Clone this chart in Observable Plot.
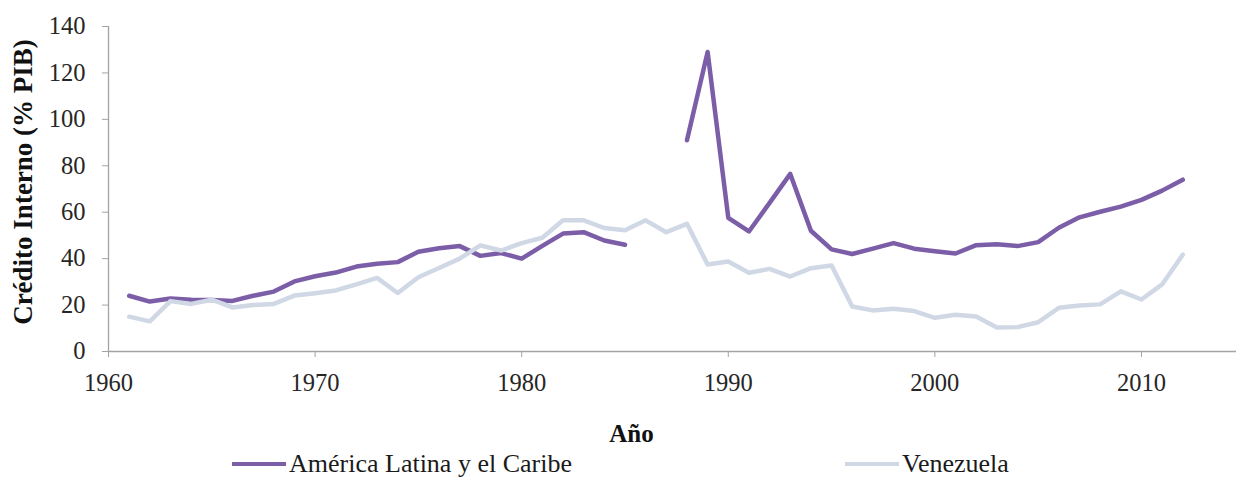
<!DOCTYPE html>
<html>
<head>
<meta charset="utf-8">
<script src="https://cdn.jsdelivr.net/npm/d3@7"></script>
<script src="https://cdn.jsdelivr.net/npm/@observablehq/plot@0.6"></script>
<style>
  html, body { margin: 0; padding: 0; background: #fff; font-family: "Liberation Serif", serif; }
  #wrap { position: relative; width: 1236px; height: 477px; font-family: "Liberation Serif", serif; }
  #legend { position: absolute; left: 0; top: 450px; width: 1236px; height: 28px; font-family: "Liberation Serif", serif; font-size: 26px; color: #1a1a1a; }
  .item { position: absolute; top: 0; display: flex; align-items: center; height: 28px; font-family: "Liberation Serif", serif; white-space: nowrap; }
  .sw { display: inline-block; width: 54px; height: 4.5px; margin-right: 3px; }
</style>
</head>
<body>
<div id="wrap"><div id="chart"></div><div id="legend"></div></div>
<script>
const years = [1961,1962,1963,1964,1965,1966,1967,1968,1969,1970,1971,1972,1973,1974,1975,1976,1977,1978,1979,1980,1981,1982,1983,1984,1985,1986,1987,1988,1989,1990,1991,1992,1993,1994,1995,1996,1997,1998,1999,2000,2001,2002,2003,2004,2005,2006,2007,2008,2009,2010,2011,2012];
const americaLatina = [24,21.5,22.8,22.3,22.2,21.8,24,25.8,30.2,32.4,34,36.6,37.8,38.5,43,44.5,45.4,41.2,42.4,40,45.5,50.8,51.4,47.8,46,null,null,91,129,57.6,51.7,64,76.5,52,44,42,44.3,46.7,44.3,43.2,42.2,45.8,46.2,45.4,47.1,53.3,57.8,60.2,62.4,65.3,69.3,74];
const venezuela = [15,13,21.7,20.5,22.3,19,20,20.5,24.1,25.1,26.3,28.9,31.7,25.2,32,36,40,45.7,43.5,46.7,49,56.5,56.5,53.2,52.2,56.5,51.4,55,37.5,38.8,33.9,35.6,32.3,35.9,37,19.4,17.7,18.4,17.4,14.5,15.8,15.1,10.3,10.5,12.6,18.8,19.8,20.3,25.9,22.4,28.9,41.7];
const seriesNames = ["América Latina y el Caribe", "Venezuela"];
const seriesColors = ["#7b5ea7", "#d0d8e6"];
const xTicks = [1960,1970,1980,1990,2000,2010];
const yTicks = [0,20,40,60,80,100,120,140];

const rowsL = years.map((y,i) => ({year: y, value: americaLatina[i]}));
const rowsV = years.map((y,i) => ({year: y, value: venezuela[i]}));

const chart = Plot.plot({
  width: 1236,
  height: 450,
  marginLeft: 108,
  marginRight: 0,
  marginTop: 26,
  marginBottom: 99,
  style: {fontFamily: "'Liberation Serif', serif", fontSize: "24.5px", color: "#262626", background: "#fff"},
  x: {domain: [1960, 2014.6], ticks: xTicks, tickFormat: d => String(d), tickSize: 6, tickPadding: 16,
      label: "Año", labelAnchor: "center", labelOffset: 90, labelArrow: "none"},
  y: {domain: [0, 140], ticks: yTicks, tickSize: 6, tickPadding: 17,
      label: "Crédito Interno (% PIB)", labelAnchor: "center", labelOffset: 96, labelArrow: "none"},
  marks: [
    Plot.ruleY([0], {stroke: "#a3a3a3", strokeWidth: 1.3}),
    Plot.ruleX([1960], {stroke: "#a3a3a3", strokeWidth: 1.3}),
    Plot.line(rowsL, {x: "year", y: "value", stroke: seriesColors[0], strokeWidth: 4.5, curve: "linear"}),
    Plot.line(rowsV, {x: "year", y: "value", stroke: seriesColors[1], strokeWidth: 4.5, curve: "linear"})
  ]
});
document.getElementById("chart").appendChild(chart);
const svg = d3.select(chart);
svg.selectAll("[aria-label='x-axis tick'], [aria-label='y-axis tick']").attr("stroke", "#a3a3a3");
svg.selectAll("[aria-label='x-axis tick label'] text, [aria-label='y-axis tick label'] text").attr("fill", "#262626");
svg.selectAll("[aria-label='y-axis label'] text")
  .style("font-weight", "bold").style("font-size", "27px").attr("fill", "#111")
  .each(function() {
    const t = d3.select(this).attr("transform") || "";
    d3.select(this).attr("transform", "translate(0,-7) " + t);
  });
svg.selectAll("[aria-label='x-axis label'] text")
  .style("font-weight", "bold").style("font-size", "25px").attr("fill", "#111")
  .each(function() {
    const t = d3.select(this).attr("transform") || "";
    d3.select(this).attr("transform", "translate(-41,0) " + t);
  });

const leg = document.getElementById("legend");
const legLeft = [232, 845];
seriesNames.forEach((n, i) => {
  const it = document.createElement("div");
  it.className = "item";
  it.style.left = legLeft[i] + "px";
  it.innerHTML = `<span class="sw" style="background:${seriesColors[i]}"></span><span>${n}</span>`;
  leg.appendChild(it);
});
</script>
</body>
</html>
